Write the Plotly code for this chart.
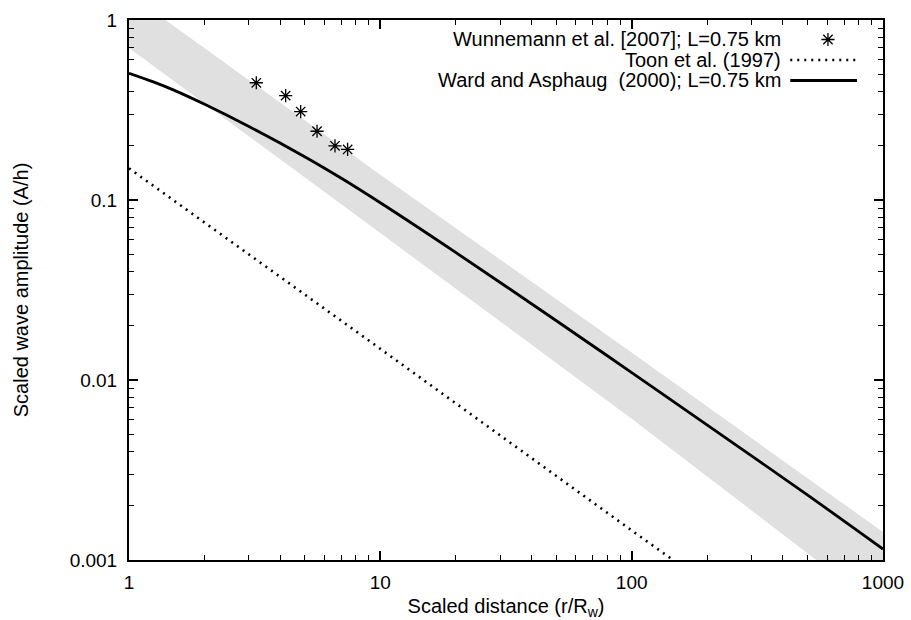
import plotly.graph_objects as go

# ---------------- data ----------------
wunnemann_x = [3.21, 4.20, 4.82, 5.60, 6.60, 7.41]
wunnemann_y = [0.448, 0.380, 0.310, 0.241, 0.200, 0.191]

toon_x = [1, 10, 100, 200]
toon_y = [0.150, 0.0149, 0.00146, 0.00073]

ward_x = [1, 1.25, 1.5, 2, 3, 5, 7, 10, 20, 50, 100, 200, 500, 1000]
ward_y = [0.506, 0.453, 0.409, 0.340, 0.256, 0.174, 0.132, 0.0965, 0.0510,
          0.0214, 0.0110, 0.00562, 0.00230, 0.00115]

band_x = [1, 10, 100, 1000]
band_upper = [1.40, 0.138, 0.0142, 0.00143]
band_lower = [0.70, 0.0655, 0.0061, 0.00052]

x_tickvals = [1, 10, 100, 1000]
x_ticktext = ["1", "10", "100", "1000"]
y_tickvals = [0.001, 0.01, 0.1, 1]
y_ticktext = ["0.001", "0.01", "0.1", "1"]

legend_labels = ["Wunnemann et al. [2007]; L=0.75 km",
                 "Toon et al. (1997)",
                 "Ward and Asphaug  (2000); L=0.75 km"]

FONT = "Liberation Sans, Arial, Helvetica, sans-serif"
FS_TICK = 19
FS_TEXT = 20

x_minor = [m * 10 ** d for d in range(3) for m in range(2, 10)]
y_minor = [m * 10.0 ** d for d in range(-3, 0) for m in range(2, 10)]

fig = go.Figure()

# grey band
fig.add_trace(go.Scatter(
    x=band_x + band_x[::-1],
    y=band_upper + band_lower[::-1],
    fill="toself", fillcolor="#e0e0e0", mode="lines",
    line=dict(width=0), hoverinfo="skip", showlegend=False))

# Toon et al.
fig.add_trace(go.Scatter(
    x=toon_x, y=toon_y, mode="lines",
    line=dict(color="black", width=2.6, dash="2px,5px"), showlegend=False))

# Ward and Asphaug
fig.add_trace(go.Scatter(
    x=ward_x, y=ward_y, mode="lines", line_shape="spline",
    line=dict(color="black", width=2.8), showlegend=False))

# Wunnemann points
star = dict(symbol="asterisk-open", size=11, color="black",
            line=dict(color="black", width=1.3))
fig.add_trace(go.Scatter(
    x=wunnemann_x, y=wunnemann_y, mode="markers",
    marker=star, showlegend=False))

# ---- custom legend (text on left, key on right, gnuplot style) ----
row_y = [0.9639, 0.9259, 0.888]
key_x0, key_x1, star_x, text_x = 0.877, 0.9655, 0.927, 0.867
fig.add_trace(go.Scatter(
    x=[star_x], y=[row_y[0]], xaxis="x2", yaxis="y2", mode="markers",
    marker=star, showlegend=False, hoverinfo="skip"))
fig.add_trace(go.Scatter(
    x=[key_x0, key_x1], y=[row_y[1], row_y[1]], xaxis="x2", yaxis="y2",
    mode="lines", line=dict(color="black", width=2.6, dash="2px,5px"),
    showlegend=False, hoverinfo="skip"))
fig.add_trace(go.Scatter(
    x=[key_x0, key_x1], y=[row_y[2], row_y[2]], xaxis="x2", yaxis="y2",
    mode="lines", line=dict(color="black", width=2.8),
    showlegend=False, hoverinfo="skip"))
for lab, yy in zip(legend_labels, row_y):
    fig.add_annotation(x=text_x, y=yy, xref="paper", yref="paper",
                       text=lab, showarrow=False, xanchor="right",
                       yanchor="middle",
                       font=dict(size=FS_TEXT, color="black"))

axis_common = dict(
    type="log", showgrid=False, zeroline=False,
    showline=True, linecolor="black", linewidth=2, mirror="allticks",
    ticks="inside", ticklen=9, tickwidth=1.5, tickcolor="black",
    tickfont=dict(size=FS_TICK, color="black"),
)

fig.update_layout(
    width=911, height=620,
    margin=dict(l=129, r=28, t=20, b=60),
    plot_bgcolor="white", paper_bgcolor="white",
    font=dict(family=FONT, size=FS_TICK, color="black"),
    xaxis=dict(**axis_common, range=[0, 3], tickmode="array",
               tickvals=x_tickvals, ticktext=x_ticktext,
               minor=dict(tickvals=x_minor, ticks="inside", ticklen=5,
                          tickwidth=1.2, tickcolor="black"),
               title=dict(text="Scaled distance (r/R<sub>w</sub>)",
                          font=dict(size=FS_TEXT), standoff=7),
               automargin=False, ticklabelstandoff=4),
    yaxis=dict(**axis_common, range=[-3, 0], tickmode="array",
               tickvals=y_tickvals, ticktext=y_ticktext,
               minor=dict(tickvals=y_minor, ticks="inside", ticklen=5,
                          tickwidth=1.2, tickcolor="black"),
               title=dict(text="Scaled wave amplitude (A/h)",
                          font=dict(size=FS_TEXT), standoff=36),
               automargin=False, ticklabelstandoff=6),
    xaxis2=dict(overlaying="x", range=[0, 1], visible=False, fixedrange=True),
    yaxis2=dict(overlaying="y", range=[0, 1], visible=False, fixedrange=True),
)

fig.write_html("out.html",
               config={"displayModeBar": False},
               post_script="document.body.style.margin='0px';"
                           "document.body.style.overflow='hidden';")
